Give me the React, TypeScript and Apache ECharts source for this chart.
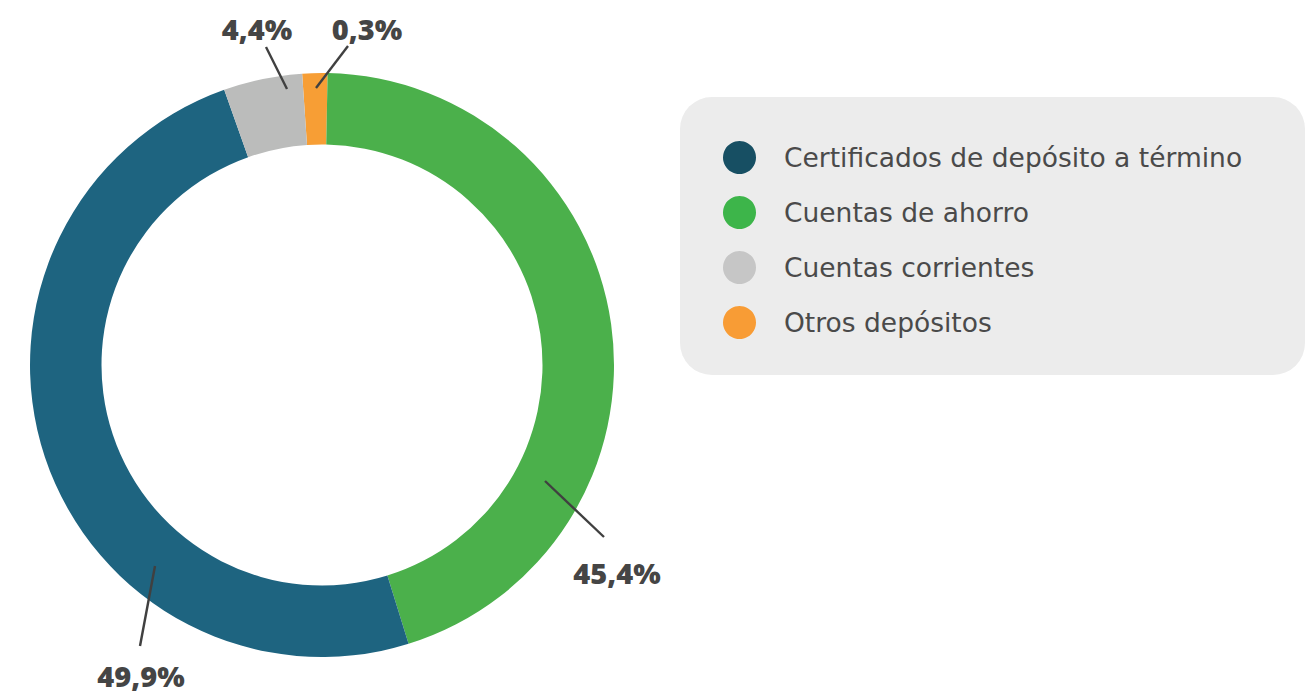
import React, { useEffect, useRef } from "react";
import * as echarts from "echarts";

// Data (slice order around the ring, starting at the top)
const names = ["Otros depósitos", "Cuentas de ahorro", "Certificados de depósito a término", "Cuentas corrientes"];
const values = [0.3, 45.4, 49.9, 4.4];
const sliceColors = ["#f79e35", "#4bb04b", "#1e6480", "#bbbcbb"];

// Legend order and icon colours
const legendNames = ["Certificados de depósito a término", "Cuentas de ahorro", "Cuentas corrientes", "Otros depósitos"];
const legendColors = ["#174f63", "#3db54a", "#c6c6c6", "#f89c35"];

// Label placement and leader lines (layout only)
const labelPlacement: Record<string, { x: number; y: number; line: number[] }> = {
  "Otros depósitos": { x: 367, y: 28, line: [316, 88, 348, 46] },
  "Cuentas de ahorro": { x: 617, y: 572, line: [545, 481, 604, 537] },
  "Certificados de depósito a término": { x: 141, y: 675, line: [155, 566, 140, 646] },
  "Cuentas corrientes": { x: 257, y: 28, line: [287, 89, 266, 47] },
};

const LEGEND_FONT = "DejaVu Sans, Open Sans, sans-serif";
const LABEL_FONT = "Open Sans, Noto Sans, sans-serif";

export default function App() {
  const ref = useRef<HTMLDivElement>(null);
  useEffect(() => {
    if (!ref.current) return;
    const chart = echarts.init(ref.current, undefined, { renderer: "svg" });
    chart.setOption({
      animation: false,
      backgroundColor: "#ffffff",
      graphic: [
        {
          type: "rect",
          z: 0,
          shape: { x: 680, y: 97, width: 625, height: 278, r: 32 },
          style: { fill: "#ececec" },
        },
        ...names.map((n) => {
          const l = labelPlacement[n].line;
          return {
            type: "line",
            z: 20,
            shape: { x1: l[0], y1: l[1], x2: l[2], y2: l[3] },
            style: { stroke: "#404040", lineWidth: 2.4 },
          };
        }),
      ],
      legend: {
        orient: "vertical",
        left: 723,
        top: 141,
        padding: 0,
        z: 10,
        icon: "circle",
        itemWidth: 79,
        itemHeight: 33,
        itemGap: 22,
        selectedMode: false,
        textStyle: { fontFamily: LEGEND_FONT, fontSize: 26.5, color: "#4a4a4a", lineHeight: 33 },
        data: legendNames.map((n, i) => ({ name: n, itemStyle: { color: legendColors[i] } })),
      },
      series: [
        {
          type: "pie",
          center: [322, 365],
          radius: [220.5, 292],
          startAngle: 93.9,
          clockwise: true,
          minAngle: 5,
          avoidLabelOverlap: false,
          silent: true,
          itemStyle: { borderWidth: 0 },
          label: {
            show: true,
            position: "outside",
            fontFamily: LABEL_FONT,
            fontWeight: 800,
            fontSize: 29,
            lineHeight: 26,
            color: "#454545",
            formatter: (p: any) => p.value.toFixed(1).replace(".", ",") + "%",
          },
          labelLine: { show: false },
          labelLayout: (p: any) => {
            const pl = labelPlacement[names[p.dataIndex]];
            return { x: pl.x, y: pl.y, align: "center", verticalAlign: "middle" };
          },
          data: names.map((n, i) => ({ name: n, value: values[i], itemStyle: { color: sliceColors[i] } })),
        },
      ],
    });
    return () => chart.dispose();
  }, []);
  return <div ref={ref} style={{ position: "fixed", left: 0, top: 0, width: 1306, height: 694 }} />;
}
